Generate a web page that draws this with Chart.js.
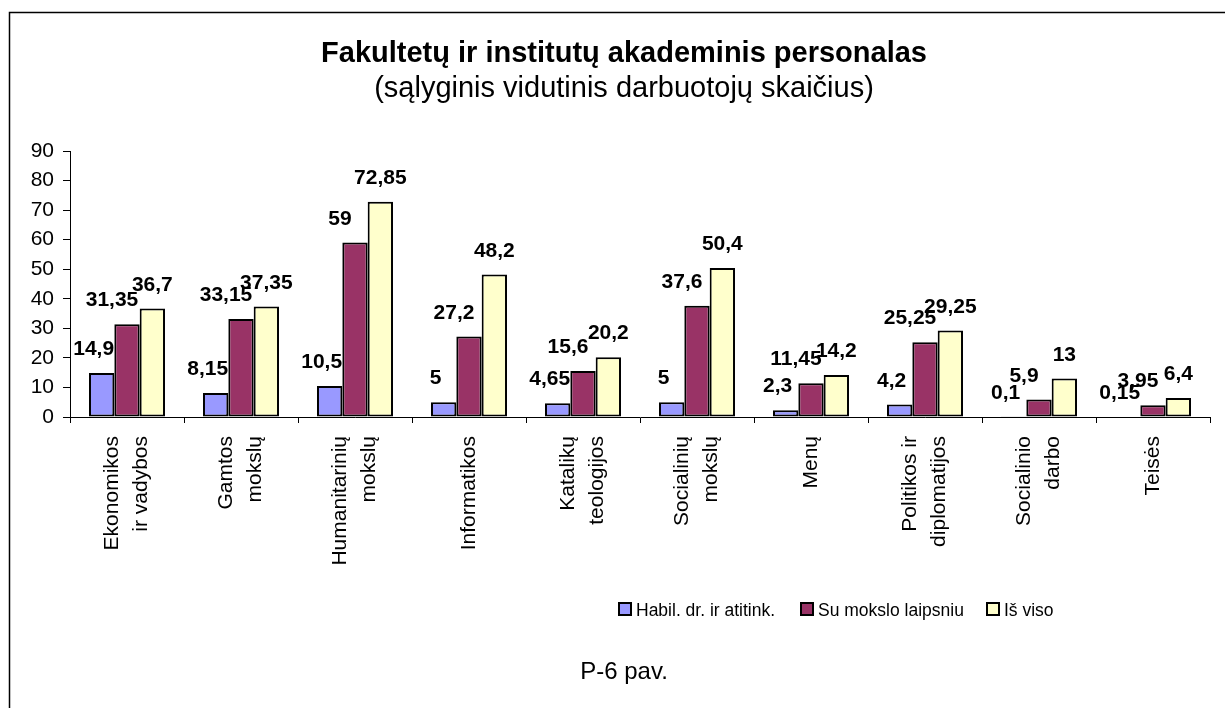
<!DOCTYPE html>
<html>
<head>
<meta charset="utf-8">
<script src="https://cdn.jsdelivr.net/npm/chart.js@4.4.1/dist/chart.umd.min.js"></script>
<style>
  body { margin: 0; background: #fff; }
  canvas { display: block; }
</style>
</head>
<body>
<canvas id="chart" width="1225" height="708"></canvas>
<script>
// chart data
const categories = [
  ["Ekonomikos", "ir vadybos"],
  ["Gamtos", "mokslų"],
  ["Humanitarinių", "mokslų"],
  ["Informatikos"],
  ["Katalikų", "teologijos"],
  ["Socialinių", "mokslų"],
  ["Menų"],
  ["Politikos ir", "diplomatijos"],
  ["Socialinio", "darbo"],
  ["Teisės"]
];
const habil = [14.9, 8.15, 10.5, 5, 4.65, 5, 2.3, 4.2, 0.1, 0.15];
const suLaipsniu = [31.35, 33.15, 59, 27.2, 15.6, 37.6, 11.45, 25.25, 5.9, 3.95];
const isViso = [36.7, 37.35, 72.85, 48.2, 20.2, 50.4, 14.2, 29.25, 13, 6.4];
const seriesNames = ["Habil. dr. ir atitink.", "Su mokslo laipsniu", "Iš viso"];
const yTicks = [0, 10, 20, 30, 40, 50, 60, 70, 80, 90];

const FONT = "'Liberation Sans', Arial, sans-serif";

const decor = {
  id: "decor",
  beforeDraw(chart) {
    const c = chart.ctx;
    c.save();
    c.fillStyle = "#fff";
    c.fillRect(0, 0, chart.width, chart.height);
    // frame
    c.strokeStyle = "#000";
    c.lineWidth = 1.5;
    c.beginPath();
    c.moveTo(9.5, chart.height);
    c.lineTo(9.5, 12.5);
    c.lineTo(chart.width, 12.5);
    c.stroke();
    // titles
    c.fillStyle = "#000";
    c.textAlign = "center";
    c.textBaseline = "alphabetic";
    c.font = "bold 29px " + FONT;
    c.fillText("Fakultetų ir institutų akademinis personalas", 624, 62);
    c.font = "29px " + FONT;
    c.fillText("(sąlyginis vidutinis darbuotojų skaičius)", 624, 97);
    c.font = "24px " + FONT;
    c.fillText("P-6 pav.", 624, 679);
    c.restore();
  },
  afterDraw(chart) {
    const c = chart.ctx;
    c.save();
    // category labels, rotated, lines centred on the tick
    const xs = chart.scales.x;
    c.font = "21px " + FONT;
    c.fillStyle = "#000";
    c.textAlign = "right";
    c.textBaseline = "middle";
    chart.data.labels.forEach((lines, j) => {
      const x = xs.getPixelForValue(j);
      c.save();
      c.translate(x, xs.top + 19);
      c.rotate(-Math.PI / 2);
      lines.forEach((ln, k) => {
        c.fillText(ln, 0, (k - (lines.length - 1) / 2) * 29);
      });
      c.restore();
    });
    // value labels
    const shifts = [-8, -15, 0];
    c.font = "bold 21px " + FONT;
    c.textAlign = "center";
    c.textBaseline = "alphabetic";
    chart.data.datasets.forEach((ds, i) => {
      chart.getDatasetMeta(i).data.forEach((bar, j) => {
        const txt = String(ds.data[j]).replace(".", ",");
        c.fillText(txt, bar.x + shifts[i], bar.y - 18);
      });
    });
    // legend
    const lx = [619, 801, 987];
    c.font = "17.5px " + FONT;
    c.textAlign = "left";
    chart.data.datasets.forEach((ds, i) => {
      c.fillStyle = ds.backgroundColor;
      c.fillRect(lx[i], 603, 12, 12);
      c.strokeStyle = "#000";
      c.lineWidth = 2;
      c.strokeRect(lx[i], 603, 12, 12);
      c.fillStyle = "#000";
      c.fillText(ds.label, lx[i] + 17, 616);
    });
    c.restore();
  }
};

new Chart(document.getElementById("chart"), {
  type: "bar",
  data: {
    labels: categories,
    datasets: [
      { label: seriesNames[0], data: habil, backgroundColor: "#9999FF" },
      { label: seriesNames[1], data: suLaipsniu, backgroundColor: "#993366" },
      { label: seriesNames[2], data: isViso, backgroundColor: "#FFFFCC" }
    ]
  },
  options: {
    responsive: false,
    animation: false,
    layout: { padding: { top: 151, left: 10, right: 15, bottom: 101 } },
    datasets: {
      bar: {
        borderColor: "#000",
        borderWidth: 2,
        borderSkipped: false,
        categoryPercentage: 0.667,
        barPercentage: 1
      }
    },
    plugins: {
      legend: { display: false },
      title: { display: false },
      tooltip: { enabled: false }
    },
    scales: {
      x: {
        afterFit(scale) { scale.height = 190; },
        grid: {
          drawOnChartArea: false,
          color: "#000",
          tickLength: 6,
          offset: true
        },
        border: { color: "#000", width: 1 },
        ticks: { display: false }
      },
      y: {
        min: 0,
        max: 90,
        afterFit(scale) { scale.width = 60; },
        afterBuildTicks(scale) { scale.ticks = yTicks.map(v => ({ value: v })); },
        grid: { drawOnChartArea: false, color: "#000", tickLength: 7 },
        border: { color: "#000", width: 1 },
        ticks: {
          padding: 9,
          color: "#000",
          font: { family: FONT, size: 21 }
        }
      }
    }
  },
  plugins: [decor]
});
</script>
</body>
</html>
